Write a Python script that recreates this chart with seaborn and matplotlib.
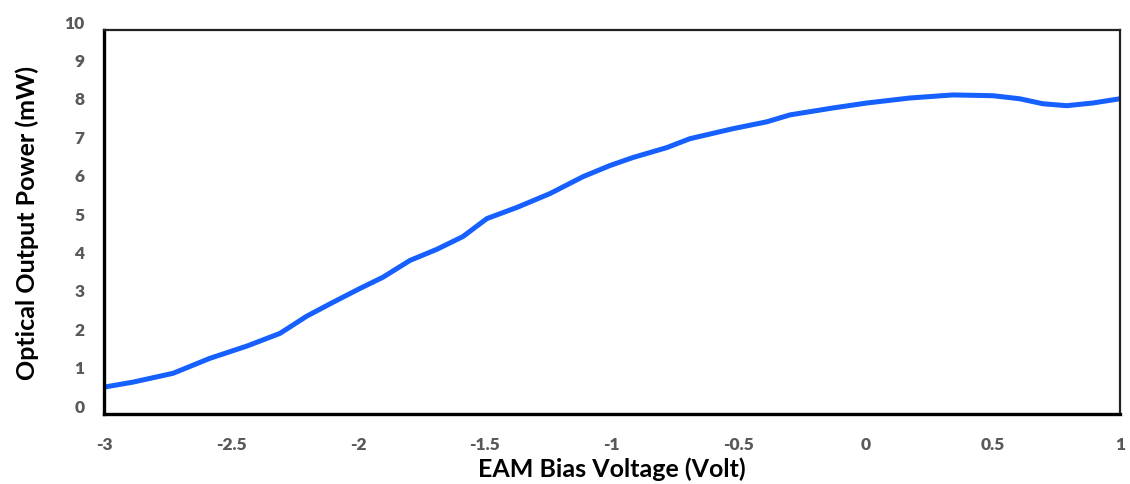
import numpy as np
import pandas as pd
import matplotlib
matplotlib.use("Agg")
import matplotlib.pyplot as plt
import matplotlib.transforms as mtransforms
import seaborn as sns

# values
bias_volt = [-3.0, -2.886, -2.728, -2.583, -2.437, -2.307, -2.201, -2.098, -1.992,
             -1.902, -1.795, -1.689, -1.587, -1.492, -1.374, -1.244, -1.114, -1.008,
             -0.917, -0.783, -0.693, -0.524, -0.390, -0.299, -0.130, 0.004,
             0.173, 0.343, 0.500, 0.606, 0.697, 0.791, 0.894, 1.0]
power_mw = [0.70, 0.83, 1.06, 1.45, 1.77, 2.10, 2.55, 2.91, 3.27,
            3.56, 4.00, 4.29, 4.62, 5.09, 5.38, 5.74, 6.18, 6.47,
            6.68, 6.94, 7.17, 7.43, 7.61, 7.79, 7.97, 8.10,
            8.23, 8.31, 8.29, 8.21, 8.08, 8.03, 8.10, 8.21]

x_ticks = [-3, -2.5, -2, -1.5, -1, -0.5, 0, 0.5, 1]
x_tick_labels = ["-3", "-2.5", "-2", "-1.5", "-1", "-0.5", "0", "0.5", "1"]
y_ticks = list(range(0, 11))

df = pd.DataFrame({"bias": bias_volt, "power": power_mw})

sns.set_style("white")
plt.rcParams['font.family'] = ['Lato', 'DejaVu Sans']

fig = plt.figure(figsize=(11.3, 4.85), dpi=100)
ax = fig.add_axes([0.092, 0.1443, 0.899, 0.7917])

sns.lineplot(data=df, x="bias", y="power", color="#1560FF", linewidth=3.6, ax=ax)

ax.set_xlim(-3, 1)
ax.set_ylim(0, 10)
ax.set_xticks(x_ticks)
ax.set_xticklabels(x_tick_labels)
ax.set_yticks(y_ticks)

for side in ["left", "bottom"]:
    ax.spines[side].set_linewidth(2.4)
    ax.spines[side].set_color("black")
for side in ["top", "right"]:
    ax.spines[side].set_linewidth(1.6)
    ax.spines[side].set_color("#222222")

ax.tick_params(axis="both", direction="in", length=3, width=1.8, color="black",
               labelsize=12.5, labelcolor="#595959", pad=14)
ax.tick_params(axis="x", pad=16)
for lab in ax.get_xticklabels() + ax.get_yticklabels():
    lab.set_fontweight("heavy")

# Excel-like offset: y tick labels sit a bit above their ticks
shift = mtransforms.ScaledTranslation(0, 9 / 100, fig.dpi_scale_trans)
for lab in ax.get_yticklabels():
    lab.set_transform(lab.get_transform() + shift)

ax.set_xlabel("EAM Bias Voltage (Volt)", fontsize=18, fontweight="bold", color="black")
ax.set_ylabel("Optical Output Power (mW)", fontsize=18, fontweight="bold", color="black")
ax.xaxis.set_label_coords(0.5, -0.11)
ax.yaxis.set_label_coords(-0.064, 0.5)

fig.savefig("out.png", dpi=100, facecolor="white")
